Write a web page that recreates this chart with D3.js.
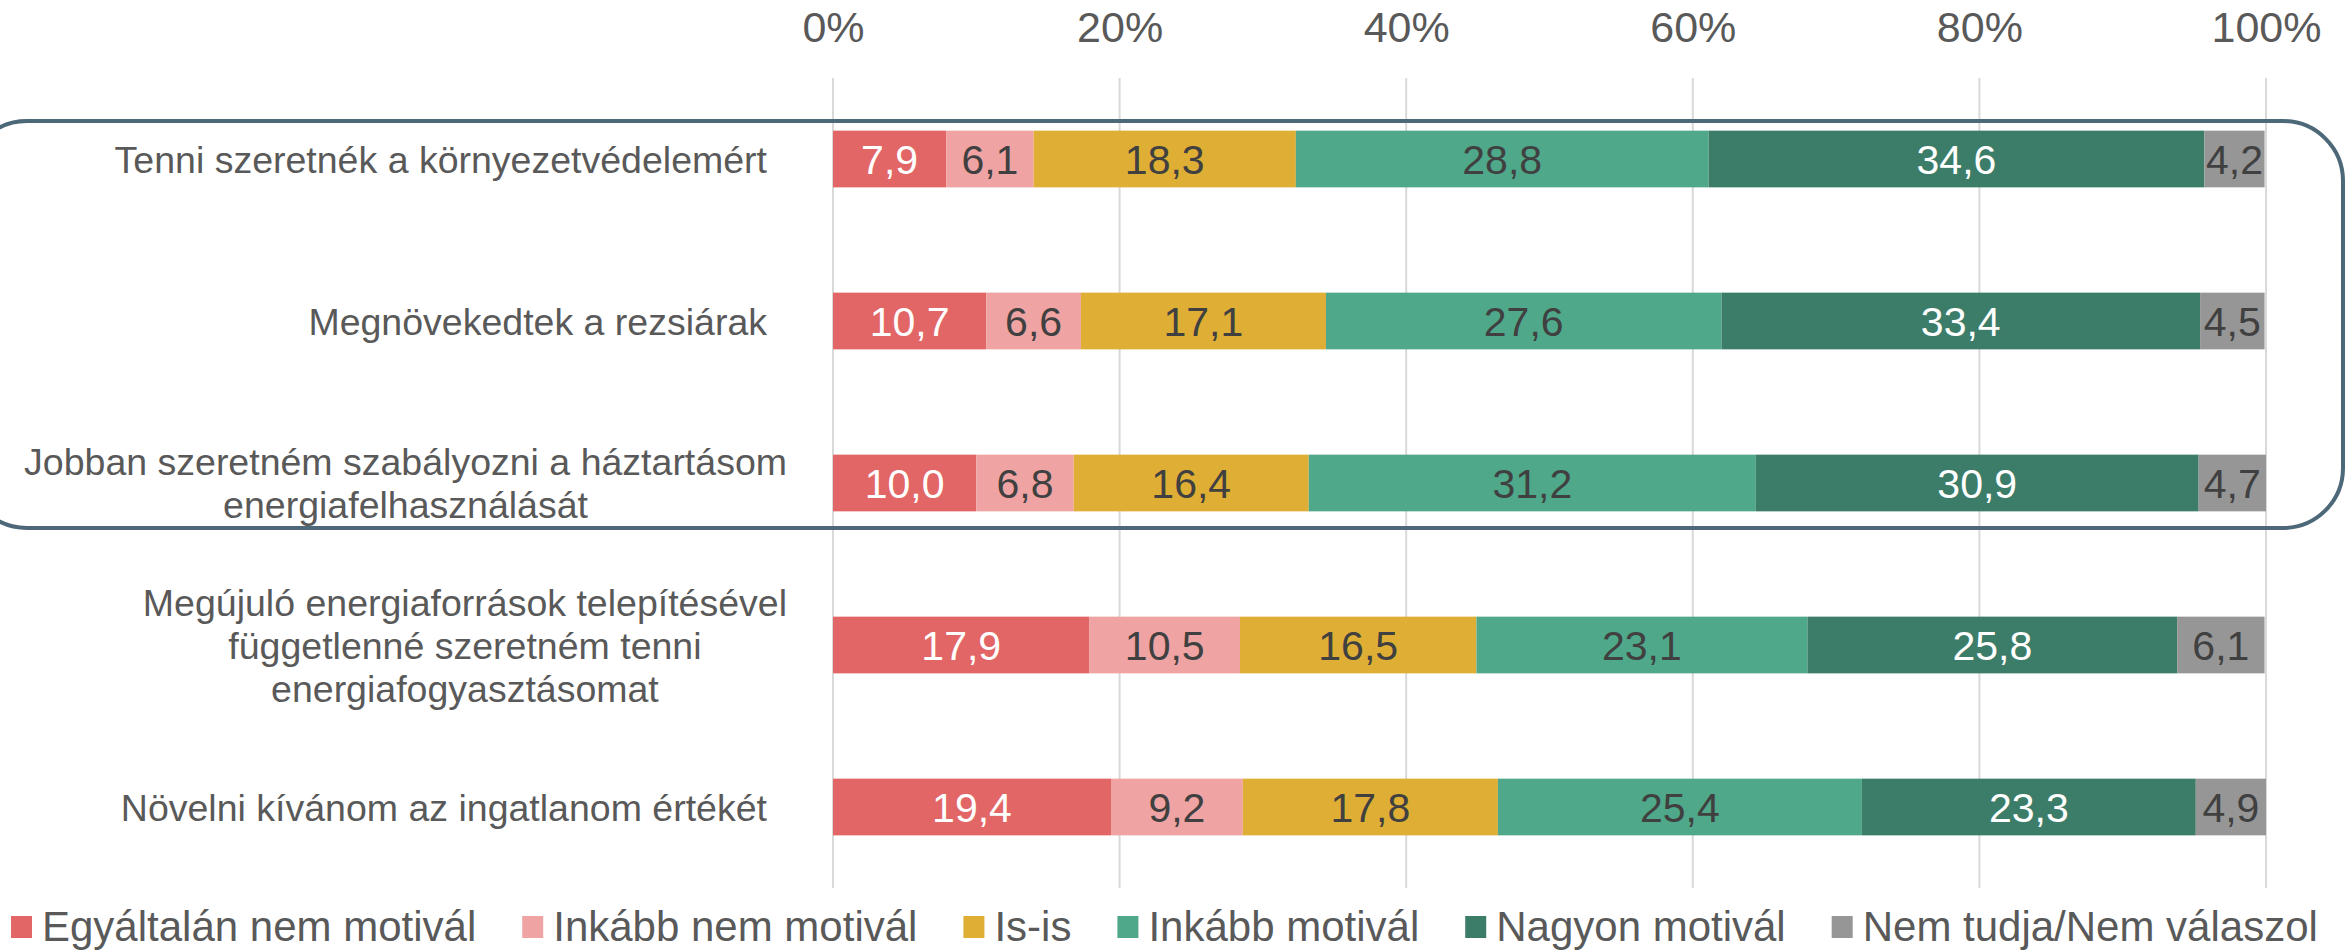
<!DOCTYPE html>
<html>
<head>
<meta charset="utf-8">
<script src="https://cdn.jsdelivr.net/npm/d3@7"></script>
<style>
  html, body { margin: 0; padding: 0; background: #fff; }
  svg text { font-family: Arial, "Liberation Sans", sans-serif; }
</style>
</head>
<body>
<svg id="chart"></svg>
<script>
// chart data
const categories = [
    'Tenni szeretnék a környezetvédelemért',
    'Megnövekedtek a rezsiárak',
    'Jobban szeretném szabályozni a háztartásom\nenergiafelhasználását',
    'Megújuló energiaforrások telepítésével\nfüggetlenné szeretném tenni\nenergiafogyasztásomat',
    'Növelni kívánom az ingatlanom értékét'
];
const seriesNames = ['Egyáltalán nem motivál', 'Inkább nem motivál', 'Is-is', 'Inkább motivál', 'Nagyon motivál', 'Nem tudja/Nem válaszol'];
const egyaltalanNem = [7.9, 10.7, 10.0, 17.9, 19.4];
const inkabbNem = [6.1, 6.6, 6.8, 10.5, 9.2];
const isIs = [18.3, 17.1, 16.4, 16.5, 17.8];
const inkabbIgen = [28.8, 27.6, 31.2, 23.1, 25.4];
const nagyon = [34.6, 33.4, 30.9, 25.8, 23.3];
const nemTudja = [4.2, 4.5, 4.7, 6.1, 4.9];
const tickValues = [0, 20, 40, 60, 80, 100];

const seriesValues = [egyaltalanNem, inkabbNem, isIs, inkabbIgen, nagyon, nemTudja];
const colors = ['#E36666', '#EFA3A3', '#DFAE35', '#4FA88A', '#3C7D6A', '#969696'];
const labelColors = ['#ffffff', '#404040', '#404040', '#404040', '#ffffff', '#404040'];

// base settings
const width = 2348;
const height = 951;
const margin = { top: 78, left: 833, right: 82, bottom: 63 };

const svg = d3.select('#chart').attr('width', width).attr('height', height);

// build rows for the stack
const rows = categories.map((c, i) => {
    const row = { cat: c };
    seriesNames.forEach((s, j) => { row[s] = seriesValues[j][i]; });
    return row;
});
const stacked = d3.stack().keys(seriesNames)(rows);

const x = d3.scaleLinear().domain([0, 100]).range([margin.left, width - margin.right]);
const y = d3.scaleBand().domain(categories).range([margin.top, height - margin.bottom]).paddingInner(0.65).paddingOuter(0.325);

// gridlines
svg.append('g')
    .selectAll('line')
    .data(tickValues)
    .enter().append('line')
    .attr('x1', d => x(d)).attr('x2', d => x(d))
    .attr('y1', margin.top).attr('y2', height - margin.bottom)
    .style('stroke', '#D9D9D9')
    .style('stroke-width', '2px');

// top axis labels
const axis = svg.append('g')
    .attr('transform', `translate(0, 42)`)
    .call(d3.axisTop(x).tickValues(tickValues).tickFormat(d => d + '%').tickSize(0).tickPadding(0));
axis.select('.domain').remove();
axis.selectAll('text')
    .style('font-size', '43px')
    .style('fill', '#595959')
    .attr('font-family', null);

// rounded frame round the first three rows
svg.append('rect')
    .attr('x', -33)
    .attr('y', 121)
    .attr('width', 2376)
    .attr('height', 407)
    .attr('rx', 60).attr('ry', 60)
    .style('fill', 'none')
    .style('stroke', '#4D6878')
    .style('stroke-width', '4px');

// bars
const layer = svg.selectAll('.layer')
    .data(stacked)
    .enter().append('g')
    .attr('class', 'layer')
    .style('fill', (d, i) => colors[i]);

layer.selectAll('rect')
    .data(d => d)
    .enter().append('rect')
    .attr('x', d => x(d[0]))
    .attr('y', d => y(d.data.cat))
    .attr('width', d => x(d[1]) - x(d[0]))
    .attr('height', y.bandwidth());

// value labels
layer.selectAll('text')
    .data((d, i) => d.map(p => ({ p, i })))
    .enter().append('text')
    .attr('x', d => (x(d.p[0]) + x(d.p[1])) / 2)
    .attr('y', d => y(d.p.data.cat) + y.bandwidth() / 2)
    .attr('dy', '0.36em')
    .attr('text-anchor', 'middle')
    .style('font-size', '41px')
    .style('fill', d => labelColors[d.i])
    .text(d => d3.format('.1f')(d.p[1] - d.p[0]).replace('.', ','));

// category labels (single lines right aligned, wrapped ones centred)
const lineHeight = 43;
categories.forEach(c => {
    const lines = c.split('\n');
    const cy = y(c) + y.bandwidth() / 2;
    const g = svg.append('g');
    const texts = lines.map((l, k) => g.append('text')
        .attr('y', cy + (k - (lines.length - 1) / 2) * lineHeight)
        .attr('dy', '0.36em')
        .style('font-size', '37.5px')
        .style('fill', '#595959')
        .text(l));
    if (lines.length === 1) {
        texts[0].attr('x', 767).attr('text-anchor', 'end');
    } else {
        const maxW = d3.max(texts, t => t.node().getComputedTextLength());
        texts.forEach(t => t.attr('x', 787 - maxW / 2).attr('text-anchor', 'middle'));
    }
});

// legend
const legend = svg.append('g').attr('transform', `translate(11, 927)`);
let lx = 0;
seriesNames.forEach((s, i) => {
    legend.append('rect')
        .attr('x', lx).attr('y', -11)
        .attr('width', 21).attr('height', 22)
        .style('fill', colors[i]);
    const t = legend.append('text')
        .attr('x', lx + 31)
        .attr('y', 14)
        .style('font-size', '42px')
        .style('fill', '#595959')
        .text(s);
    lx += 31 + t.node().getComputedTextLength() + 46;
});
</script>
</body>
</html>
